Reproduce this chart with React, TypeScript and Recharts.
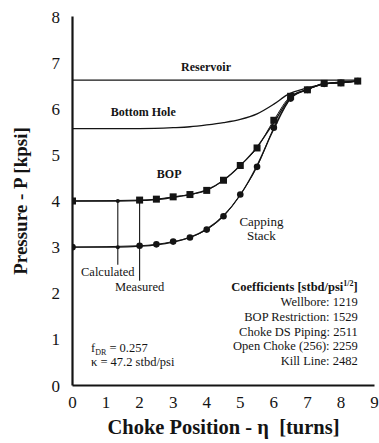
import { ComposedChart, Line, Scatter, XAxis, YAxis, ReferenceLine, ReferenceDot, Label } from 'recharts'

// measured points (squares = BOP, circles = capping stack)
const measuredTurns = [0, 2, 2.5, 3, 3.5, 4, 4.5, 5, 5.5, 6, 6.5, 7, 7.5, 8, 8.5]
const bopMeasured = [4.0, 4.02, 4.04, 4.09, 4.14, 4.23, 4.45, 4.77, 5.15, 5.75, 6.27, 6.41, 6.55, 6.56, 6.6]
const cappingMeasured = [3.0, 3.03, 3.06, 3.12, 3.21, 3.38, 3.67, 4.14, 4.74, 5.59, 6.22, 6.41, 6.54, 6.56, 6.6]

// calculated curves
const calcTurns = [0, 1.35, 2, 2.5, 3, 3.5, 4, 4.5, 5, 5.5, 6, 6.5, 7, 7.5, 8, 8.5]
const bopCalculated = [4.0, 4.0, 4.01, 4.03, 4.08, 4.14, 4.24, 4.45, 4.77, 5.17, 5.7, 6.25, 6.42, 6.54, 6.57, 6.6]
const cappingCalculated = [3.0, 3.0, 3.02, 3.05, 3.11, 3.21, 3.39, 3.68, 4.13, 4.77, 5.56, 6.22, 6.42, 6.54, 6.57, 6.6]

const bottomHoleTurns = [0, 1, 2, 3, 3.5, 4, 4.5, 5, 5.5, 6, 6.4, 7, 7.5, 8, 8.5]
const bottomHolePressure = [5.57, 5.57, 5.57, 5.59, 5.61, 5.65, 5.7, 5.77, 5.89, 6.1, 6.3, 6.45, 6.54, 6.58, 6.6]

const reservoirTurns = [0, 8.5]
const reservoirPressure = [6.62, 6.62]

const calculatedMarkTurn = 1.35
const measuredMarkTurn = 2.0

const xTicks = [0, 1, 2, 3, 4, 5, 6, 7, 8, 9]
const yTicks = [0, 1, 2, 3, 4, 5, 6, 7, 8]
const yMinorTicks = Array.from({ length: 81 }, (_, i) => Math.round(i) / 10)

const coefficientLines = [
  'Wellbore: 1219',
  'BOP Restriction: 1529',
  'Choke DS Piping: 2511',
  'Open Choke (256): 2259',
  'Kill Line: 2482',
]

const ink = '#141414'
const serif = 'Liberation Serif, Times New Roman, serif'

const toPoints = (xs: number[], ys: number[]) => xs.map((x, i) => ({ x, y: ys[i] }))

const bopPoints = toPoints(measuredTurns, bopMeasured)
const cappingPoints = toPoints(measuredTurns, cappingMeasured)
const bopCalcPoints = toPoints(calcTurns, bopCalculated)
const cappingCalcPoints = toPoints(calcTurns, cappingCalculated)
const bottomHolePoints = toPoints(bottomHoleTurns, bottomHolePressure)
const reservoirPoints = toPoints(reservoirTurns, reservoirPressure)
const calcDots = [
  { x: calcTurns[1], y: bopCalculated[1] },
  { x: calcTurns[1], y: cappingCalculated[1] },
]

const Square = (p: any) => <rect x={p.cx - 3.5} y={p.cy - 3.5} width={7} height={7} fill={ink} />
const Dot = (p: any) => <circle cx={p.cx} cy={p.cy} r={3.3} fill={ink} />
const SmallDot = (p: any) => <circle cx={p.cx} cy={p.cy} r={2} fill={ink} />

// text note anchored on a data position
const note = (key: string, x: number, y: number, render: (cx: number, cy: number) => any) => (
  <ReferenceDot
    key={key}
    xAxisId="x"
    yAxisId="p"
    x={x}
    y={y}
    r={0}
    stroke="none"
    fill="none"
    label={(props: any) => {
      const vb = props.viewBox || {}
      return render(vb.x + (vb.width || 0) / 2, vb.y + (vb.height || 0) / 2)
    }}
  />
)

const YTitle = (props: any) => {
  const vb = props.viewBox || {}
  const cx = vb.x + 20
  const cy = vb.y + vb.height / 2
  return (
    <text x={cx} y={cy} transform={`rotate(-90 ${cx} ${cy})`} textAnchor="middle" dominantBaseline="central"
      fontSize={19} fontWeight="bold" fill={ink} fontFamily={serif}>
      Pressure - P [kpsi]
    </text>
  )
}

export default function App() {
  return (
    <div style={{ position: 'absolute', left: 0, top: 0, fontFamily: serif, background: '#fff' }}>
      <ComposedChart width={379} height={443} margin={{ top: 16.5, right: 4.5, bottom: 0, left: 0 }}>
        {/* inner tick marks and frame */}
        <XAxis xAxisId="xt" type="number" domain={[0, 9]} allowDataOverflow ticks={xTicks.slice(1, -1)} interval={0}
          mirror height={0} tickSize={5} tickFormatter={() => ''} axisLine={false} tickLine={{ stroke: ink, strokeWidth: 1.2 }} />
        <XAxis xAxisId="top" orientation="top" type="number" domain={[0, 9]} allowDataOverflow mirror height={0}
          tick={false} tickLine={false} axisLine={{ stroke: ink, strokeWidth: 1.5 }} />
        <YAxis yAxisId="minor" type="number" domain={[0, 8]} allowDataOverflow ticks={yMinorTicks} interval={0}
          mirror width={0} tickSize={3} tickFormatter={() => ''} axisLine={false} tickLine={{ stroke: ink, strokeWidth: 1 }} />
        <YAxis yAxisId="major" type="number" domain={[0, 8]} allowDataOverflow ticks={yTicks} interval={0}
          mirror width={0} tickSize={7} tickFormatter={() => ''} axisLine={false} tickLine={{ stroke: ink, strokeWidth: 1.2 }} />
        <YAxis yAxisId="right" orientation="right" type="number" domain={[0, 8]} allowDataOverflow mirror width={0}
          tick={false} tickLine={false} axisLine={{ stroke: ink, strokeWidth: 1.5 }} />

        <XAxis xAxisId="x" dataKey="x" type="number" domain={[0, 9]} allowDataOverflow ticks={xTicks} interval={0}
          height={57.5} tickSize={6} tickMargin={4} tickLine={false}
          axisLine={{ stroke: ink, strokeWidth: 2.2 }}
          tick={{ fontSize: 17, fill: ink, fontFamily: serif }}>
          <Label value={'Choke Position - \u03b7\u00a0\u00a0[turns]'} position="insideBottom" offset={9}
            style={{ fontSize: 20.5, fontWeight: 'bold', fill: ink, fontFamily: serif }} />
        </XAxis>
        <YAxis yAxisId="p" type="number" domain={[0, 8]} allowDataOverflow ticks={yTicks} interval={0}
          width={72.5} tickSize={6} tickMargin={6.5} tickLine={false}
          axisLine={{ stroke: ink, strokeWidth: 2.2 }}
          tick={{ fontSize: 17, fill: ink, fontFamily: serif }}>
          <Label content={YTitle} />
        </YAxis>

        <Line xAxisId="x" yAxisId="p" data={reservoirPoints} dataKey="y" type="linear" stroke={ink} strokeWidth={1.3} dot={false} isAnimationActive={false} />
        <Line xAxisId="x" yAxisId="p" data={bottomHolePoints} dataKey="y" type="monotone" stroke={ink} strokeWidth={1.3} dot={false} isAnimationActive={false} />
        <Line xAxisId="x" yAxisId="p" data={bopCalcPoints} dataKey="y" type="monotone" stroke={ink} strokeWidth={1.3} dot={false} isAnimationActive={false} />
        <Line xAxisId="x" yAxisId="p" data={cappingCalcPoints} dataKey="y" type="monotone" stroke={ink} strokeWidth={1.3} dot={false} isAnimationActive={false} />
        <Line xAxisId="x" yAxisId="p" data={bopPoints} dataKey="y" type="monotone" stroke={ink} strokeWidth={1} dot={false} isAnimationActive={false} />
        <Line xAxisId="x" yAxisId="p" data={cappingPoints} dataKey="y" type="monotone" stroke={ink} strokeWidth={1} dot={false} isAnimationActive={false} />

        <ReferenceLine xAxisId="x" yAxisId="p" segment={[{ x: calculatedMarkTurn, y: 4.0 }, { x: calculatedMarkTurn, y: 2.62 }]} stroke={ink} strokeWidth={1.1} />
        <ReferenceLine xAxisId="x" yAxisId="p" segment={[{ x: measuredMarkTurn, y: 4.0 }, { x: measuredMarkTurn, y: 2.27 }]} stroke={ink} strokeWidth={1.1} />

        <Scatter xAxisId="x" yAxisId="p" data={cappingPoints} dataKey="y" shape={Dot} isAnimationActive={false} />
        <Scatter xAxisId="x" yAxisId="p" data={bopPoints} dataKey="y" shape={Square} isAnimationActive={false} />
        <Scatter xAxisId="x" yAxisId="p" data={calcDots} dataKey="y" shape={SmallDot} isAnimationActive={false} />

        {note('res', 3.98, 6.9, (cx, cy) => (
          <text x={cx} y={cy} textAnchor="middle" dominantBaseline="central" fontSize={12} fontWeight="bold" fill={ink} fontFamily={serif}>Reservoir</text>
        ))}
        {note('bh', 2.11, 5.93, (cx, cy) => (
          <text x={cx} y={cy} textAnchor="middle" dominantBaseline="central" fontSize={12} fontWeight="bold" fill={ink} fontFamily={serif}>Bottom Hole</text>
        ))}
        {note('bop', 2.88, 4.58, (cx, cy) => (
          <text x={cx} y={cy} textAnchor="middle" dominantBaseline="central" fontSize={12} fontWeight="bold" fill={ink} fontFamily={serif}>BOP</text>
        ))}
        {note('cap', 5.63, 3.42, (cx, cy) => (
          <text x={cx} y={cy} textAnchor="middle" fontSize={13} fill={ink} fontFamily={serif}>
            <tspan x={cx} dy={-2}>Capping</tspan>
            <tspan x={cx} dy={14}>Stack</tspan>
          </text>
        ))}
        {note('calc', 1.05, 2.47, (cx, cy) => (
          <text x={cx} y={cy} textAnchor="middle" dominantBaseline="central" fontSize={12.5} fill={ink} fontFamily={serif}>Calculated</text>
        ))}
        {note('meas', 2.0, 2.14, (cx, cy) => (
          <text x={cx} y={cy} textAnchor="middle" dominantBaseline="central" fontSize={12.5} fill={ink} fontFamily={serif}>Measured</text>
        ))}
        {note('coef', 8.5, 2.13, (cx, cy) => (
          <text x={cx} y={cy} textAnchor="end" fontSize={12.5} fill={ink} fontFamily={serif}>
            <tspan x={cx} dy={4} fontWeight="bold">Coefficients [stbd/psi<tspan fontSize={8} dy={-5}>1/2</tspan><tspan dy={5}>]</tspan></tspan>
            {coefficientLines.map((t, i) => (
              <tspan key={t} x={cx} dy={i === 0 ? 15 : 14.7}>{t}</tspan>
            ))}
          </text>
        ))}
        {note('fk', 0.55, 0.82, (cx, cy) => (
          <text x={cx} y={cy} fontSize={12.5} fill={ink} fontFamily={serif}>
            <tspan x={cx} dy={4}>f<tspan fontSize={8} dy={3}>DR</tspan><tspan dy={-3}> = 0.257</tspan></tspan>
            <tspan x={cx} dy={14.5}>{'\u03ba = 47.2 stbd/psi'}</tspan>
          </text>
        ))}
      </ComposedChart>
    </div>
  )
}
